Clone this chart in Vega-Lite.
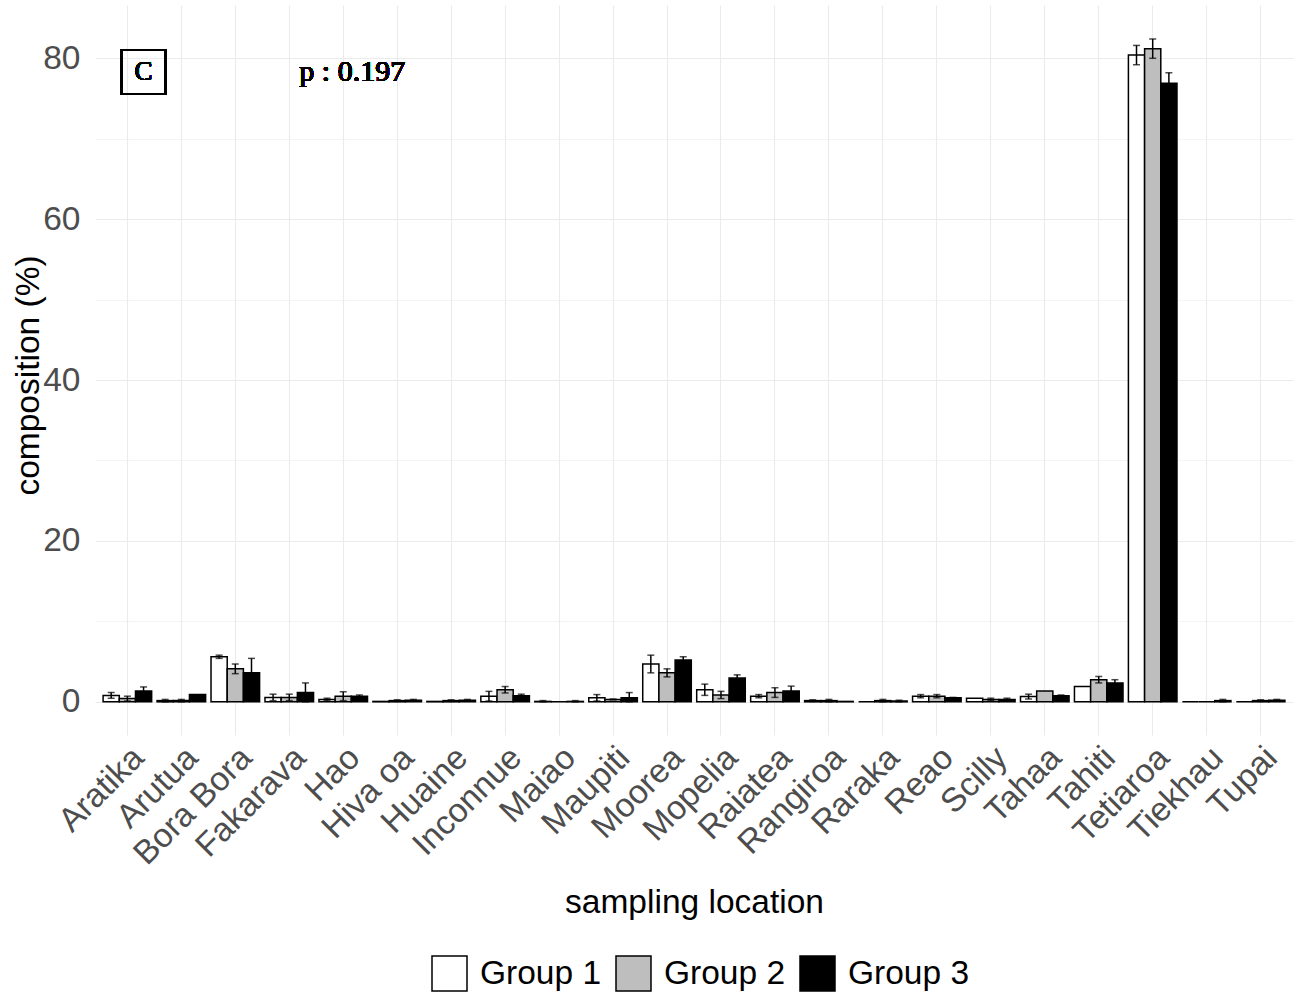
{
  "$schema": "https://vega.github.io/schema/vega-lite/v6.json",
  "autosize": "none",
  "width": 1198,
  "height": 730,
  "padding": {"left": 95, "top": 5, "right": 4, "bottom": 261},
  "background": "white",
  "config": {
    "view": {"stroke": null},
    "font": "Liberation Sans",
    "axis": {"gridColor": "#EBEBEB", "domain": false, "ticks": false}
  },
  "data": {
    "values": [
      {"location": "Aratika", "group": "Group 1", "mean": 0.8, "lo": 0.45, "hi": 1.15},
      {"location": "Aratika", "group": "Group 2", "mean": 0.4, "lo": 0.1, "hi": 0.7},
      {"location": "Aratika", "group": "Group 3", "mean": 1.35, "lo": 0.85, "hi": 1.85},
      {"location": "Arutua", "group": "Group 1", "mean": 0.15, "lo": 0.0, "hi": 0.3},
      {"location": "Arutua", "group": "Group 2", "mean": 0.15, "lo": 0.0, "hi": 0.3},
      {"location": "Arutua", "group": "Group 3", "mean": 0.9, "lo": 0.9, "hi": 0.9},
      {"location": "Bora Bora", "group": "Group 1", "mean": 5.6, "lo": 5.4, "hi": 5.8},
      {"location": "Bora Bora", "group": "Group 2", "mean": 4.1, "lo": 3.5, "hi": 4.7},
      {"location": "Bora Bora", "group": "Group 3", "mean": 3.6, "lo": 1.8, "hi": 5.4},
      {"location": "Fakarava", "group": "Group 1", "mean": 0.55, "lo": 0.15, "hi": 0.95},
      {"location": "Fakarava", "group": "Group 2", "mean": 0.55, "lo": 0.15, "hi": 0.95},
      {"location": "Fakarava", "group": "Group 3", "mean": 1.15, "lo": 0.0, "hi": 2.35},
      {"location": "Hao", "group": "Group 1", "mean": 0.3, "lo": 0.15, "hi": 0.45},
      {"location": "Hao", "group": "Group 2", "mean": 0.7, "lo": 0.15, "hi": 1.25},
      {"location": "Hao", "group": "Group 3", "mean": 0.7, "lo": 0.55, "hi": 0.85},
      {"location": "Hiva oa", "group": "Group 1", "mean": 0.05, "lo": 0.05, "hi": 0.05},
      {"location": "Hiva oa", "group": "Group 2", "mean": 0.15, "lo": 0.05, "hi": 0.25},
      {"location": "Hiva oa", "group": "Group 3", "mean": 0.2, "lo": 0.1, "hi": 0.3},
      {"location": "Huaine", "group": "Group 1", "mean": 0.05, "lo": 0.05, "hi": 0.05},
      {"location": "Huaine", "group": "Group 2", "mean": 0.15, "lo": 0.05, "hi": 0.25},
      {"location": "Huaine", "group": "Group 3", "mean": 0.2, "lo": 0.1, "hi": 0.3},
      {"location": "Inconnue", "group": "Group 1", "mean": 0.7, "lo": 0.1, "hi": 1.3},
      {"location": "Inconnue", "group": "Group 2", "mean": 1.5, "lo": 1.1, "hi": 1.9},
      {"location": "Inconnue", "group": "Group 3", "mean": 0.75, "lo": 0.55, "hi": 0.95},
      {"location": "Maiao", "group": "Group 1", "mean": 0.05, "lo": 0.0, "hi": 0.15},
      {"location": "Maiao", "group": "Group 2", "mean": 0.0, "lo": 0.0, "hi": 0.0},
      {"location": "Maiao", "group": "Group 3", "mean": 0.05, "lo": 0.0, "hi": 0.15},
      {"location": "Maupiti", "group": "Group 1", "mean": 0.5, "lo": 0.1, "hi": 0.9},
      {"location": "Maupiti", "group": "Group 2", "mean": 0.3, "lo": 0.25, "hi": 0.35},
      {"location": "Maupiti", "group": "Group 3", "mean": 0.5, "lo": 0.0, "hi": 1.15},
      {"location": "Moorea", "group": "Group 1", "mean": 4.7, "lo": 3.6, "hi": 5.8},
      {"location": "Moorea", "group": "Group 2", "mean": 3.6, "lo": 3.1, "hi": 4.1},
      {"location": "Moorea", "group": "Group 3", "mean": 5.2, "lo": 4.8, "hi": 5.6},
      {"location": "Mopelia", "group": "Group 1", "mean": 1.5, "lo": 0.8, "hi": 2.2},
      {"location": "Mopelia", "group": "Group 2", "mean": 0.85, "lo": 0.4, "hi": 1.3},
      {"location": "Mopelia", "group": "Group 3", "mean": 2.95, "lo": 2.55, "hi": 3.35},
      {"location": "Raiatea", "group": "Group 1", "mean": 0.7, "lo": 0.5, "hi": 0.9},
      {"location": "Raiatea", "group": "Group 2", "mean": 1.15, "lo": 0.55, "hi": 1.75},
      {"location": "Raiatea", "group": "Group 3", "mean": 1.35, "lo": 0.75, "hi": 1.95},
      {"location": "Rangiroa", "group": "Group 1", "mean": 0.15, "lo": 0.05, "hi": 0.25},
      {"location": "Rangiroa", "group": "Group 2", "mean": 0.15, "lo": 0.0, "hi": 0.3},
      {"location": "Rangiroa", "group": "Group 3", "mean": 0.05, "lo": 0.05, "hi": 0.05},
      {"location": "Raraka", "group": "Group 1", "mean": 0.0, "lo": 0.0, "hi": 0.0},
      {"location": "Raraka", "group": "Group 2", "mean": 0.15, "lo": 0.0, "hi": 0.3},
      {"location": "Raraka", "group": "Group 3", "mean": 0.1, "lo": 0.0, "hi": 0.2},
      {"location": "Reao", "group": "Group 1", "mean": 0.7, "lo": 0.5, "hi": 0.9},
      {"location": "Reao", "group": "Group 2", "mean": 0.7, "lo": 0.5, "hi": 0.9},
      {"location": "Reao", "group": "Group 3", "mean": 0.5, "lo": 0.45, "hi": 0.55},
      {"location": "Scilly", "group": "Group 1", "mean": 0.45, "lo": 0.45, "hi": 0.45},
      {"location": "Scilly", "group": "Group 2", "mean": 0.3, "lo": 0.15, "hi": 0.45},
      {"location": "Scilly", "group": "Group 3", "mean": 0.3, "lo": 0.15, "hi": 0.45},
      {"location": "Tahaa", "group": "Group 1", "mean": 0.65, "lo": 0.35, "hi": 0.95},
      {"location": "Tahaa", "group": "Group 2", "mean": 1.35, "lo": 1.35, "hi": 1.35},
      {"location": "Tahaa", "group": "Group 3", "mean": 0.75, "lo": 0.65, "hi": 0.85},
      {"location": "Tahiti", "group": "Group 1", "mean": 1.9, "lo": 1.9, "hi": 1.9},
      {"location": "Tahiti", "group": "Group 2", "mean": 2.75, "lo": 2.35, "hi": 3.15},
      {"location": "Tahiti", "group": "Group 3", "mean": 2.35, "lo": 1.95, "hi": 2.75},
      {"location": "Tetiaroa", "group": "Group 1", "mean": 80.4, "lo": 79.2, "hi": 81.6},
      {"location": "Tetiaroa", "group": "Group 2", "mean": 81.2, "lo": 80.0, "hi": 82.4},
      {"location": "Tetiaroa", "group": "Group 3", "mean": 76.9, "lo": 75.6, "hi": 78.2},
      {"location": "Tiekhau", "group": "Group 1", "mean": 0.0, "lo": 0.0, "hi": 0.0},
      {"location": "Tiekhau", "group": "Group 2", "mean": 0.0, "lo": 0.0, "hi": 0.0},
      {"location": "Tiekhau", "group": "Group 3", "mean": 0.15, "lo": 0.0, "hi": 0.3},
      {"location": "Tupai", "group": "Group 1", "mean": 0.0, "lo": 0.0, "hi": 0.0},
      {"location": "Tupai", "group": "Group 2", "mean": 0.15, "lo": 0.05, "hi": 0.25},
      {"location": "Tupai", "group": "Group 3", "mean": 0.2, "lo": 0.1, "hi": 0.3}
    ]
  },
  "encoding": {
    "x": {
      "field": "location",
      "type": "nominal",
      "sort": null,
      "scale": {"paddingInner": 0.1, "paddingOuter": 0.15},
      "axis": {
        "title": "sampling location",
        "titleFontSize": 33.5,
        "titleFontWeight": "normal",
        "titleColor": "black",
        "titlePadding": 16,
        "labelAngle": -45,
        "labelAlign": "right",
        "labelBaseline": "top",
        "labelFontSize": 33.5,
        "labelColor": "#4D4D4D",
        "labelPadding": 6,
        "bandPosition": 0.5,
        "grid": true,
        "gridWidth": 1.1
      }
    },
    "xOffset": {"field": "group", "type": "nominal", "scale": {"domain": ["Group 1", "Group 2", "Group 3"], "paddingInner": 0, "paddingOuter": 0}}
  },
  "layer": [
    {
      "mark": {"type": "bar", "stroke": "black", "strokeWidth": 1.5},
      "encoding": {
        "y": {
          "field": "mean",
          "type": "quantitative",
          "scale": {"domain": [-4.125, 86.625], "nice": false, "zero": false},
          "axis": {
            "title": "composition (%)",
            "titleFontSize": 33.5,
            "titleFontWeight": "normal",
            "titleColor": "black",
            "titlePadding": -3,
            "titleY": 370,
            "values": [0, 10, 20, 30, 40, 50, 60, 70, 80],
            "labelExpr": "datum.value % 20 === 0 ? datum.label : ''",
            "labelFontSize": 33.5,
            "labelColor": "#4D4D4D",
            "labelPadding": 15,
            "gridWidth": {"condition": {"test": "datum.value % 20 === 0", "value": 1.1}, "value": 0.55}
          }
        },
        "fill": {
          "field": "group",
          "type": "nominal",
          "scale": {"domain": ["Group 1", "Group 2", "Group 3"], "range": ["#FFFFFF", "#BEBEBE", "#000000"]},
          "legend": {
            "title": null,
            "orient": "none",
            "direction": "horizontal",
            "legendX": 336,
            "legendY": 950,
            "symbolType": "square",
            "symbolSize": 1225,
            "symbolStrokeColor": "black",
            "symbolStrokeWidth": 1.5,
            "labelFontSize": 33.5,
            "labelColor": "black",
            "labelOffset": 12,
            "columnPadding": 11,
            "padding": 0
          }
        }
      }
    },
    {
      "transform": [{"filter": "datum.hi > datum.lo"}],
      "mark": {"type": "rule", "color": "black", "strokeWidth": 1.5},
      "encoding": {
        "y": {"field": "lo", "type": "quantitative"},
        "y2": {"field": "hi"}
      }
    },
    {
      "transform": [{"filter": "datum.hi > datum.lo"}],
      "mark": {"type": "tick", "color": "black", "orient": "horizontal", "size": 7, "thickness": 1.5},
      "encoding": {"y": {"field": "hi", "type": "quantitative"}}
    },
    {
      "transform": [{"filter": "datum.hi > datum.lo"}],
      "mark": {"type": "tick", "color": "black", "orient": "horizontal", "size": 7, "thickness": 1.5},
      "encoding": {"y": {"field": "lo", "type": "quantitative"}}
    },
    {
      "mark": {"type": "point", "shape": "square", "filled": false, "stroke": "black", "strokeWidth": 1.5, "size": 1936},
      "encoding": {
        "x": {"datum": "Aratika"},
        "xOffset": {"datum": "Group 3"},
        "y": {"datum": 78.3}
      }
    },
    {
      "mark": {"type": "text", "font": "Liberation Serif", "fontSize": 27, "fill": "black", "align": "center", "baseline": "middle"},
      "encoding": {
        "x": {"datum": "Aratika"},
        "xOffset": {"datum": "Group 3"},
        "y": {"datum": 78.3},
        "text": {"value": "C"}
      }
    },
    {
      "mark": {"type": "text", "font": "Liberation Serif", "fontSize": 30, "fill": "black", "align": "center", "baseline": "middle", "dx": 9},
      "encoding": {
        "x": {"datum": "Hao"},
        "xOffset": {"datum": "Group 2"},
        "y": {"datum": 78.3},
        "text": {"value": "p : 0.197"}
      }
    }
  ]
}
